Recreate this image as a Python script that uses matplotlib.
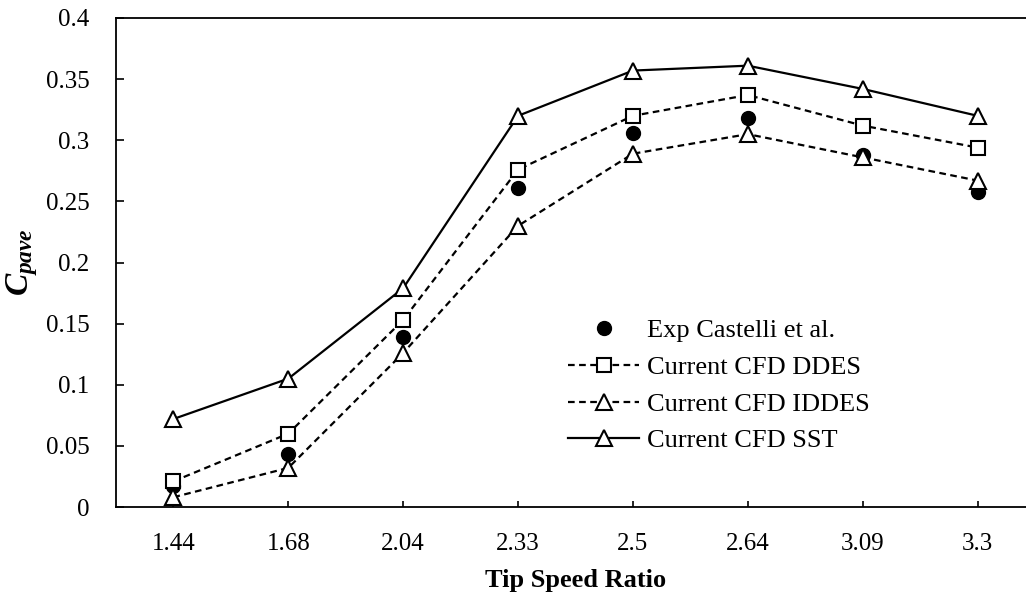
import matplotlib
matplotlib.use("Agg")
import matplotlib.pyplot as plt
import numpy as np

# data
tsr_labels = ["1.44", "1.68", "2.04", "2.33", "2.5", "2.64", "3.09", "3.3"]
exp_castelli = [0.017, 0.043, 0.139, 0.261, 0.306, 0.318, 0.288, 0.258]
cfd_ddes = [0.021, 0.060, 0.153, 0.276, 0.320, 0.337, 0.312, 0.294]
cfd_iddes = [0.008, 0.032, 0.126, 0.230, 0.289, 0.305, 0.286, 0.267]
cfd_sst = [0.072, 0.105, 0.179, 0.320, 0.357, 0.361, 0.342, 0.320]

plt.rcParams['font.family'] = ['Liberation Serif', 'DejaVu Serif']
plt.rcParams['mathtext.fontset'] = 'custom'
plt.rcParams['mathtext.it'] = 'Liberation Serif:italic:bold'
plt.rcParams['mathtext.rm'] = 'Liberation Serif:bold'


def main():
    fig = plt.figure(figsize=(10.26, 5.94), dpi=100)
    # right edge of the frame falls outside the picture, as in the reference
    ax = fig.add_axes([116 / 1026, 87 / 594, 919 / 1026, 489 / 594])

    x = np.arange(len(tsr_labels))
    ax.plot(x, exp_castelli, linestyle="none", marker="o", ms=10,
            color="black", label="Exp Castelli et al.")
    ax.plot(x, cfd_ddes, linestyle="--", dashes=(3, 2), lw=1.6, marker="s", ms=10,
            mfc="white", mec="black", mew=1.5, color="black", label="Current CFD DDES")
    ax.plot(x, cfd_iddes, linestyle="--", dashes=(3, 2), lw=1.6, marker="^", ms=11,
            mfc="white", mec="black", mew=1.5, color="black", label="Current CFD IDDES")
    ax.plot(x, cfd_sst, linestyle="-", lw=1.6, marker="^", ms=11,
            mfc="white", mec="black", mew=1.5, color="black", label="Current CFD SST")

    ax.set_xlim(-0.5, len(tsr_labels) - 0.5)
    ax.set_ylim(0, 0.4)
    ax.set_xticks(x)
    ax.set_xticklabels(tsr_labels)
    ax.set_yticks(np.arange(0, 0.401, 0.05))
    ax.set_yticklabels(["0", "0.05", "0.1", "0.15", "0.2", "0.25", "0.3", "0.35", "0.4"])
    ax.tick_params(direction="in", width=1.2, labelsize=18)
    ax.tick_params(axis="y", length=6, pad=19)
    ax.tick_params(axis="x", length=4, pad=19)
    for sp in ax.spines.values():
        sp.set_linewidth(1.3)

    ax.set_xlabel("Tip Speed Ratio", fontsize=19, fontweight="bold", labelpad=10)
    ax.set_ylabel(r"$C_{pave}$", fontsize=24, labelpad=4)

    ax.legend(loc="upper left", bbox_to_anchor=(568 / 1026, 1 - 319 / 594),
              bbox_transform=fig.transFigure, frameon=False, fontsize=19,
              handlelength=2.7, handletextpad=0.3, labelspacing=0.5,
              borderpad=0, borderaxespad=0, numpoints=1)

    fig.savefig("out.png", dpi=100)


if __name__ == '__main__':
    main()
